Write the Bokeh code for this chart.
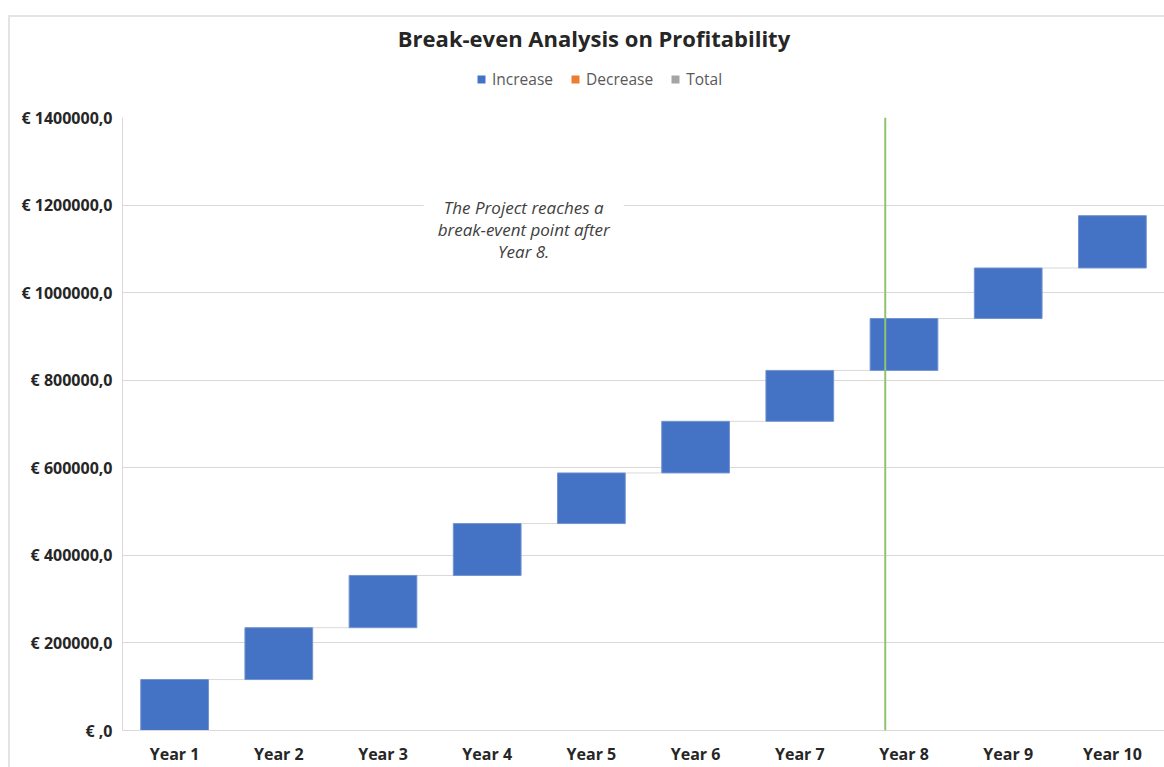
import numpy as np
from bokeh.plotting import figure
from bokeh.layouts import column
from bokeh.models import (ColumnDataSource, FactorRange, Range1d, FixedTicker,
                          CustomJSTickFormatter, Legend, LegendItem, Span, Label)
from bokeh.transform import dodge
from bokeh.embed import file_html
from bokeh.resources import INLINE

# ---- data ----
years = ["Year 1", "Year 2", "Year 3", "Year 4", "Year 5",
         "Year 6", "Year 7", "Year 8", "Year 9", "Year 10"]
increase = [116300, 118500, 119300, 118500, 115600,
            117900, 116300, 118500, 115400, 119500]
y_ticks = [0, 200000, 400000, 600000, 800000, 1000000, 1200000, 1400000]
legend_labels = ["Increase", "Decrease", "Total"]
legend_colors = ["#4472C4", "#ED7D31", "#A5A5A5"]
breakeven_year = "Year 8"
note_text = "The Project reaches a\nbreak-event point after\nYear 8."
title_text = "Break-even Analysis on Profitability"

top = np.cumsum(increase)
bottom = top - np.array(increase)

src = ColumnDataSource(dict(year=years, top=top, bottom=bottom))
conn = ColumnDataSource(dict(x0=years[:-1], x1=years[1:], y=top[:-1]))

FONT = "Open Sans"
BAR_W = 0.65
W = 1164
LEFT = 122          # frame left edge (both figures share it)
MAIN_TOP = 12       # room above the main frame for the top tick label
HEAD_H = 117 - MAIN_TOP
MAIN_H = 767 - HEAD_H

# ---------- header (title + legend) ----------
head = figure(width=W, height=HEAD_H, x_range=Range1d(LEFT, W), y_range=Range1d(HEAD_H, 0),
              output_backend="svg", toolbar_location=None, title=None,
              x_axis_type=None, y_axis_type=None,
              min_border_left=LEFT, min_border_right=0, min_border_top=0, min_border_bottom=0)
head.grid.visible = False
head.outline_line_color = None
head.background_fill_color = None
head.border_fill_color = None

head.add_layout(Label(x=593.5, y=37, text=title_text, text_align="center",
                      text_baseline="alphabetic", text_font=FONT, text_font_size="22px",
                      text_font_style="bold", text_color="#262626"))

items = []
for lab, col in zip(legend_labels, legend_colors):
    r = head.vbar(x=[LEFT], top=[np.nan], bottom=[np.nan], width=1, fill_color=col, line_color=None)
    items.append(LegendItem(label=lab, renderers=[r]))
legend = Legend(items=items, orientation="horizontal", location=(476 - LEFT, HEAD_H - 89.5),
                border_line_color=None, background_fill_alpha=0,
                glyph_width=10, glyph_height=10, label_standoff=6, spacing=17,
                label_text_font=FONT, label_text_font_size="15.5px", label_text_color="#595959",
                padding=0, margin=0)
head.add_layout(legend, "center")

# ---------- main chart ----------
p = figure(x_range=FactorRange(*years), y_range=Range1d(0, 1400000),
           width=W, height=MAIN_H, output_backend="svg", toolbar_location=None,
           title=None, min_border_left=LEFT, min_border_right=0,
           min_border_top=MAIN_TOP, min_border_bottom=36)
p.background_fill_color = None
p.border_fill_color = None
p.outline_line_color = None

# connectors
p.segment(x0=dodge("x0", BAR_W / 2, range=p.x_range), x1=dodge("x1", -BAR_W / 2, range=p.x_range),
          y0="y", y1="y", source=conn, line_color="#d9d9d9", line_width=1)

p.vbar(x="year", top="top", bottom="bottom", width=BAR_W, source=src,
       fill_color=legend_colors[0], line_color="#7393d0", line_width=1)

# break-even line
be_loc = years.index(breakeven_year) + 0.5 - 0.18
p.add_layout(Span(location=be_loc, dimension="height", line_color="#8fc46e", line_width=2))

# note
p.add_layout(Label(x=3.85, y=1252000, text=note_text, text_align="center", text_baseline="top",
                   text_font=FONT, text_font_style="italic", text_font_size="17px",
                   text_color="#404040", text_line_height=0.94,
                   background_fill_color="white", padding=14))

# axes
for ax in (p.xaxis, p.yaxis):
    ax.major_tick_line_color = None
    ax.minor_tick_line_color = None
    ax.major_tick_out = 0
    ax.major_tick_in = 0
    ax.minor_tick_out = 0
    ax.axis_line_color = "#d9d9d9"
    ax.major_label_text_font = FONT
    ax.major_label_text_font_size = "16px"
    ax.major_label_text_font_style = "bold"
    ax.major_label_text_color = "#262626"
p.xaxis.major_label_standoff = 12
p.yaxis.major_label_standoff = 10
p.yaxis.ticker = FixedTicker(ticks=y_ticks)
p.yaxis.formatter = CustomJSTickFormatter(
    code="return tick == 0 ? '\u20ac ,0' : '\u20ac ' + tick.toFixed(0) + ',0';")

p.xgrid.visible = False
p.ygrid.grid_line_color = "#d9d9d9"
p.ygrid.grid_line_width = 1

# light chart-area border (top and left), drawn as page background
chart_bg = ("linear-gradient(#e4e4e4,#e4e4e4) 8px 15px / 1156px 2px no-repeat, "
            "linear-gradient(#e4e4e4,#e4e4e4) 8px 15px / 2px 752px no-repeat, #ffffff")
layout = column(head, p, spacing=0, styles={"background": chart_bg})
open("out.html", "w").write(file_html(layout, INLINE))
